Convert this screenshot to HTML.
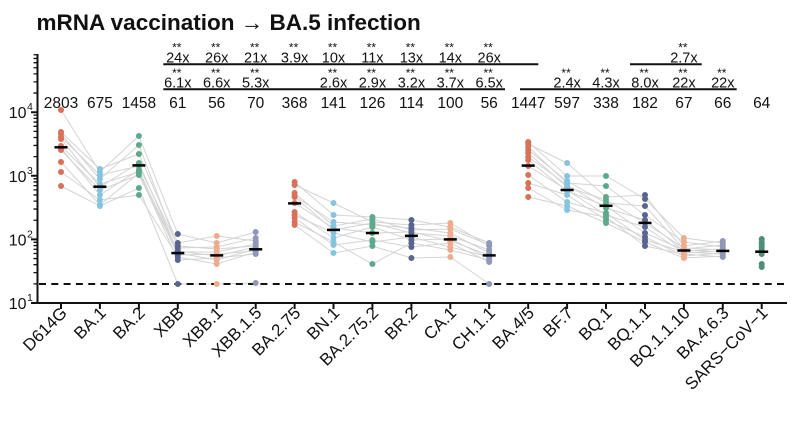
<!DOCTYPE html>
<html><head><meta charset="utf-8"><style>
html,body{margin:0;padding:0;background:#fff;}
svg{display:block;}
text{font-family:"Liberation Sans",Arial,sans-serif;fill:#111;}
</style></head><body>
<svg width="800" height="439" viewBox="0 0 800 439" xmlns="http://www.w3.org/2000/svg">
<rect width="800" height="439" fill="#fff"/>
<!-- title -->
<text x="36.5" y="30" font-size="22.5" font-weight="bold">mRNA vaccination <tspan font-weight="normal">→</tspan> BA.5 infection</text>

<!-- bracket lines -->
<g stroke="#111" stroke-width="2">
<line x1="163.3" y1="64.3" x2="538.3" y2="64.3"/>
<line x1="630" y1="64.3" x2="701.7" y2="64.3"/>
<line x1="163.3" y1="89.3" x2="505" y2="89.3"/>
<line x1="520" y1="89.3" x2="736.7" y2="89.3"/>
</g>

<!-- fold row 1 -->
<g font-size="14.5" text-anchor="middle">
<text x="177.8" y="62.5">24x</text><text x="216.7" y="62.5">26x</text><text x="255.7" y="62.5">21x</text>
<text x="294.6" y="62.5">3.9x</text><text x="333.5" y="62.5">10x</text><text x="372.4" y="62.5">11x</text>
<text x="411.4" y="62.5">13x</text><text x="450.3" y="62.5">14x</text><text x="489.2" y="62.5">26x</text>
<text x="683.9" y="62.5">2.7x</text>
</g>
<g font-size="12" text-anchor="middle">
<text x="176.8" y="51.5">**</text><text x="215.7" y="51.5">**</text><text x="254.7" y="51.5">**</text>
<text x="293.6" y="51.5">**</text><text x="332.5" y="51.5">**</text><text x="371.4" y="51.5">**</text>
<text x="410.4" y="51.5">**</text><text x="449.3" y="51.5">**</text><text x="488.2" y="51.5">**</text>
<text x="682.9" y="51.5">**</text>
</g>
<!-- fold row 2 -->
<g font-size="14.5" text-anchor="middle">
<text x="177.8" y="87.5">6.1x</text><text x="216.7" y="87.5">6.6x</text><text x="255.7" y="87.5">5.3x</text>
<text x="333.5" y="87.5">2.6x</text><text x="372.4" y="87.5">2.9x</text><text x="411.4" y="87.5">3.2x</text>
<text x="450.3" y="87.5">3.7x</text><text x="489.2" y="87.5">6.5x</text>
<text x="567.1" y="87.5">2.4x</text><text x="606" y="87.5">4.3x</text><text x="645" y="87.5">8.0x</text>
<text x="683.9" y="87.5">22x</text><text x="722.8" y="87.5">22x</text>
</g>
<g font-size="12" text-anchor="middle">
<text x="176.8" y="76.8">**</text><text x="215.7" y="76.8">**</text><text x="254.7" y="76.8">**</text>
<text x="332.5" y="76.8">**</text><text x="371.4" y="76.8">**</text><text x="410.4" y="76.8">**</text>
<text x="449.3" y="76.8">**</text><text x="488.2" y="76.8">**</text>
<text x="566.1" y="76.8">**</text><text x="605" y="76.8">**</text><text x="644" y="76.8">**</text>
<text x="682.9" y="76.8">**</text><text x="721.8" y="76.8">**</text>
</g>
<!-- GMT row -->
<g font-size="15.5" text-anchor="middle">
<text x="61" y="108">2803</text><text x="99.9" y="108">675</text><text x="138.9" y="108">1458</text>
<text x="177.8" y="108">61</text><text x="216.7" y="108">56</text><text x="255.7" y="108">70</text>
<text x="294.6" y="108">368</text><text x="333.5" y="108">141</text><text x="372.4" y="108">126</text>
<text x="411.4" y="108">114</text><text x="450.3" y="108">100</text><text x="489.2" y="108">56</text>
<text x="528.2" y="108">1447</text><text x="567.1" y="108">597</text><text x="606" y="108">338</text>
<text x="645" y="108">182</text><text x="683.9" y="108">67</text><text x="722.8" y="108">66</text>
<text x="761.7" y="108">64</text>
</g>

<!-- connecting lines -->
<g fill="none" stroke="#d4d4d4" stroke-width="1">
<polyline points="61,110 99.9,172 138.9,136 177.8,234 216.7,243 255.7,232"/>
<polyline points="61,132 99.9,169 138.9,154 177.8,243 216.7,236 255.7,241"/>
<polyline points="61,134 99.9,179 138.9,145 177.8,248 216.7,247 255.7,238"/>
<polyline points="61,137 99.9,175 138.9,166 177.8,246 216.7,249 255.7,246"/>
<polyline points="61,139 99.9,187 138.9,163 177.8,252 216.7,252 255.7,244"/>
<polyline points="61,146 99.9,184 138.9,172 177.8,251 216.7,256 255.7,247"/>
<polyline points="61,148 99.9,195 138.9,170 177.8,255 216.7,254 255.7,251"/>
<polyline points="61,150 99.9,190 138.9,175 177.8,253 216.7,260 255.7,249"/>
<polyline points="61,162 99.9,205 138.9,173 177.8,260 216.7,258 255.7,254"/>
<polyline points="61,172 99.9,200 138.9,195 177.8,257 216.7,264 255.7,252"/>
<polyline points="61,186 99.9,206 138.9,188 177.8,284 216.7,284 255.7,283"/>

<polyline points="294.6,182 333.5,215 372.4,217 411.4,220 450.3,227 489.2,243"/>
<polyline points="294.6,185 333.5,203 372.4,222 411.4,225 450.3,223 489.2,246"/>
<polyline points="294.6,193 333.5,226 372.4,219 411.4,230 450.3,229 489.2,245"/>
<polyline points="294.6,196 333.5,222 372.4,225 411.4,228 450.3,233 489.2,253"/>
<polyline points="294.6,197 333.5,230 372.4,223 411.4,233 450.3,236 489.2,250"/>
<polyline points="294.6,203 333.5,228 372.4,233 411.4,232 450.3,241 489.2,255"/>
<polyline points="294.6,212 333.5,238 372.4,227 411.4,240 450.3,239 489.2,258"/>
<polyline points="294.6,215 333.5,233 372.4,242 411.4,237 450.3,247 489.2,257"/>
<polyline points="294.6,218 333.5,245 372.4,240 411.4,247 450.3,243 489.2,262"/>
<polyline points="294.6,222 333.5,242 372.4,264 411.4,243 450.3,250 489.2,260"/>
<polyline points="294.6,225 333.5,253 372.4,246 411.4,258 450.3,257 489.2,284"/>

<polyline points="528.2,142 567.1,176 606,176 645,199 683.9,238 722.8,243"/>
<polyline points="528.2,144 567.1,163 606,197 645,195 683.9,246 722.8,241"/>
<polyline points="528.2,147 567.1,183 606,186 645,215 683.9,242 722.8,247"/>
<polyline points="528.2,150 567.1,181 606,203 645,206 683.9,249 722.8,245"/>
<polyline points="528.2,153 567.1,187 606,200 645,223 683.9,248 722.8,250"/>
<polyline points="528.2,157 567.1,185 606,208 645,220 683.9,251 722.8,249"/>
<polyline points="528.2,160 567.1,191 606,206 645,233 683.9,250 722.8,252"/>
<polyline points="528.2,166 567.1,190 606,215 645,227 683.9,253 722.8,251"/>
<polyline points="528.2,175 567.1,202 606,213 645,240 683.9,252 722.8,254"/>
<polyline points="528.2,183 567.1,195 606,220 645,237 683.9,256 722.8,253"/>
<polyline points="528.2,188 567.1,210 606,217 645,246 683.9,254 722.8,257"/>
<polyline points="528.2,197 567.1,206 606,223 645,242 683.9,258 722.8,256"/>
</g>

<!-- dashed limit line -->
<line x1="39" y1="284" x2="787" y2="284" stroke="#111" stroke-width="2" stroke-dasharray="7 5.3"/>

<!-- dots -->
<g fill="none" stroke-linecap="round" stroke-width="6">
<path stroke="#d9705a" d="M61 110h.01M61 132h.01M61 134h.01M61 137h.01M61 139h.01M61 146h.01M61 148h.01M61 150h.01M61 162h.01M61 172h.01M61 186h.01"/>
<path stroke="#84c4df" d="M99.9 169h.01M99.9 172h.01M99.9 175h.01M99.9 179h.01M99.9 184h.01M99.9 187h.01M99.9 190h.01M99.9 195h.01M99.9 200h.01M99.9 205h.01M99.9 206h.01"/>
<path stroke="#5ca98b" d="M138.9 136h.01M138.9 145h.01M138.9 154h.01M138.9 163h.01M138.9 166h.01M138.9 170h.01M138.9 172h.01M138.9 173h.01M138.9 175h.01M138.9 188h.01M138.9 195h.01"/>
<path stroke="#58658f" d="M177.8 234h.01M177.8 243h.01M177.8 246h.01M177.8 248h.01M177.8 251h.01M177.8 252h.01M177.8 253h.01M177.8 255h.01M177.8 257h.01M177.8 260h.01M177.8 284h.01"/>
<path stroke="#efab8d" d="M216.7 236h.01M216.7 243h.01M216.7 247h.01M216.7 249h.01M216.7 252h.01M216.7 254h.01M216.7 256h.01M216.7 258h.01M216.7 260h.01M216.7 264h.01M216.7 284h.01"/>
<path stroke="#8f98bb" d="M255.7 232h.01M255.7 238h.01M255.7 241h.01M255.7 244h.01M255.7 246h.01M255.7 247h.01M255.7 249h.01M255.7 251h.01M255.7 252h.01M255.7 254h.01M255.7 283h.01"/>
<path stroke="#d9705a" d="M294.6 182h.01M294.6 185h.01M294.6 193h.01M294.6 196h.01M294.6 197h.01M294.6 203h.01M294.6 212h.01M294.6 215h.01M294.6 218h.01M294.6 222h.01M294.6 225h.01"/>
<path stroke="#84c4df" d="M333.5 203h.01M333.5 215h.01M333.5 222h.01M333.5 226h.01M333.5 228h.01M333.5 230h.01M333.5 233h.01M333.5 238h.01M333.5 242h.01M333.5 245h.01M333.5 253h.01"/>
<path stroke="#5ca98b" d="M372.4 217h.01M372.4 219h.01M372.4 222h.01M372.4 223h.01M372.4 225h.01M372.4 227h.01M372.4 233h.01M372.4 240h.01M372.4 242h.01M372.4 246h.01M372.4 264h.01"/>
<path stroke="#58658f" d="M411.4 220h.01M411.4 225h.01M411.4 228h.01M411.4 230h.01M411.4 232h.01M411.4 233h.01M411.4 237h.01M411.4 240h.01M411.4 243h.01M411.4 247h.01M411.4 258h.01"/>
<path stroke="#efab8d" d="M450.3 223h.01M450.3 227h.01M450.3 229h.01M450.3 233h.01M450.3 236h.01M450.3 239h.01M450.3 241h.01M450.3 243h.01M450.3 247h.01M450.3 250h.01M450.3 257h.01"/>
<path stroke="#8f98bb" d="M489.2 243h.01M489.2 245h.01M489.2 246h.01M489.2 250h.01M489.2 253h.01M489.2 255h.01M489.2 257h.01M489.2 258h.01M489.2 260h.01M489.2 262h.01M489.2 284h.01"/>
<path stroke="#d9705a" d="M528.2 142h.01M528.2 144h.01M528.2 147h.01M528.2 150h.01M528.2 153h.01M528.2 157h.01M528.2 160h.01M528.2 166h.01M528.2 175h.01M528.2 183h.01M528.2 188h.01M528.2 197h.01"/>
<path stroke="#84c4df" d="M567.1 163h.01M567.1 176h.01M567.1 181h.01M567.1 183h.01M567.1 185h.01M567.1 187h.01M567.1 190h.01M567.1 191h.01M567.1 195h.01M567.1 202h.01M567.1 206h.01M567.1 210h.01"/>
<path stroke="#5ca98b" d="M606 176h.01M606 186h.01M606 197h.01M606 200h.01M606 203h.01M606 206h.01M606 208h.01M606 213h.01M606 215h.01M606 217h.01M606 220h.01M606 223h.01"/>
<path stroke="#58658f" d="M645 195h.01M645 199h.01M645 206h.01M645 215h.01M645 220h.01M645 223h.01M645 227h.01M645 233h.01M645 237h.01M645 240h.01M645 242h.01M645 246h.01"/>
<path stroke="#efab8d" d="M683.9 238h.01M683.9 242h.01M683.9 246h.01M683.9 248h.01M683.9 249h.01M683.9 250h.01M683.9 251h.01M683.9 252h.01M683.9 253h.01M683.9 254h.01M683.9 256h.01M683.9 258h.01"/>
<path stroke="#8f98bb" d="M722.8 241h.01M722.8 243h.01M722.8 245h.01M722.8 247h.01M722.8 249h.01M722.8 250h.01M722.8 251h.01M722.8 252h.01M722.8 253h.01M722.8 254h.01M722.8 256h.01M722.8 257h.01"/>
<path stroke="#4e8f78" d="M761.7 239h.01M761.7 242h.01M761.7 244h.01M761.7 246h.01M761.7 248h.01M761.7 250h.01M761.7 252h.01M761.7 254h.01M761.7 264h.01M761.7 267h.01"/>
</g>

<!-- medians -->
<g stroke="#000" stroke-width="2.5">
<line x1="54.5" y1="147.3" x2="67.5" y2="147.3"/>
<line x1="93.4" y1="186.7" x2="106.4" y2="186.7"/>
<line x1="132.4" y1="165.4" x2="145.4" y2="165.4"/>
<line x1="171.3" y1="253.1" x2="184.3" y2="253.1"/>
<line x1="210.2" y1="255.4" x2="223.2" y2="255.4"/>
<line x1="249.2" y1="249.3" x2="262.2" y2="249.3"/>
<line x1="288.1" y1="203.4" x2="301.1" y2="203.4"/>
<line x1="327" y1="229.9" x2="340" y2="229.9"/>
<line x1="365.9" y1="233" x2="378.9" y2="233"/>
<line x1="404.9" y1="235.8" x2="417.9" y2="235.8"/>
<line x1="443.8" y1="239.4" x2="456.8" y2="239.4"/>
<line x1="482.7" y1="255.4" x2="495.7" y2="255.4"/>
<line x1="521.7" y1="165.6" x2="534.7" y2="165.6"/>
<line x1="560.6" y1="190" x2="573.6" y2="190"/>
<line x1="599.5" y1="205.8" x2="612.5" y2="205.8"/>
<line x1="638.5" y1="222.9" x2="651.5" y2="222.9"/>
<line x1="677.4" y1="250.5" x2="690.4" y2="250.5"/>
<line x1="716.3" y1="250.9" x2="729.3" y2="250.9"/>
<line x1="755.2" y1="251.7" x2="768.2" y2="251.7"/>
</g>

<!-- axes -->
<g stroke="#111" fill="none">
<line x1="37.5" y1="54" x2="37.5" y2="304" stroke-width="2"/>
<line x1="36.5" y1="303" x2="787" y2="303" stroke-width="2"/>
<path stroke-width="2" d="M31 303H37.5M31 239.4H37.5M31 175.8H37.5M31 112.2H37.5"/>
<path stroke-width="1.3" d="M33.5 283.85H37.5M33.5 272.65H37.5M33.5 264.7H37.5M33.5 258.55H37.5M33.5 253.5H37.5M33.5 249.25H37.5M33.5 245.55H37.5M33.5 242.3H37.5M33.5 220.25H37.5M33.5 209.05H37.5M33.5 201.1H37.5M33.5 194.95H37.5M33.5 189.9H37.5M33.5 185.65H37.5M33.5 181.95H37.5M33.5 178.7H37.5M33.5 156.65H37.5M33.5 145.45H37.5M33.5 137.5H37.5M33.5 131.35H37.5M33.5 126.3H37.5M33.5 122.05H37.5M33.5 118.35H37.5M33.5 115.1H37.5M33.5 93.05H37.5M33.5 81.85H37.5M33.5 73.9H37.5M33.5 67.75H37.5M33.5 62.7H37.5M33.5 58.45H37.5M33.5 54.75H37.5"/>
<path stroke-width="2" d="M61 303V309M99.9 303V309M138.9 303V309M177.8 303V309M216.7 303V309M255.7 303V309M294.6 303V309M333.5 303V309M372.4 303V309M411.4 303V309M450.3 303V309M489.2 303V309M528.2 303V309M567.1 303V309M606 303V309M645 303V309M683.9 303V309M722.8 303V309M761.7 303V309"/>
</g>

<!-- y tick labels -->
<g font-size="16" text-anchor="end">
<text x="26.5" y="309">10</text><text x="26.5" y="245.4">10</text><text x="26.5" y="181.8">10</text><text x="26.5" y="118.2">10</text>
</g>
<g font-size="10.5">
<text x="27" y="301">1</text><text x="27" y="237.4">2</text><text x="27" y="173.8">3</text><text x="27" y="110.2">4</text>
</g>

<!-- x tick labels -->
<g font-size="17" text-anchor="end">
<text transform="translate(68,314) rotate(-45)">D614G</text>
<text transform="translate(106.9,314) rotate(-45)">BA.1</text>
<text transform="translate(145.9,314) rotate(-45)">BA.2</text>
<text transform="translate(184.8,314) rotate(-45)">XBB</text>
<text transform="translate(223.7,314) rotate(-45)">XBB.1</text>
<text transform="translate(262.7,314) rotate(-45)">XBB.1.5</text>
<text transform="translate(301.6,314) rotate(-45)">BA.2.75</text>
<text transform="translate(340.5,314) rotate(-45)">BN.1</text>
<text transform="translate(379.4,314) rotate(-45)">BA.2.75.2</text>
<text transform="translate(418.4,314) rotate(-45)">BR.2</text>
<text transform="translate(457.3,314) rotate(-45)">CA.1</text>
<text transform="translate(496.2,314) rotate(-45)">CH.1.1</text>
<text transform="translate(535.2,314) rotate(-45)">BA.4/5</text>
<text transform="translate(574.1,314) rotate(-45)">BF.7</text>
<text transform="translate(613,314) rotate(-45)">BQ.1</text>
<text transform="translate(652,314) rotate(-45)">BQ.1.1</text>
<text transform="translate(690.9,314) rotate(-45)">BQ.1.1.10</text>
<text transform="translate(729.8,314) rotate(-45)">BA.4.6.3</text>
<text transform="translate(768.7,314) rotate(-45)">SARS−CoV−1</text>
</g>
</svg>
</body></html>
